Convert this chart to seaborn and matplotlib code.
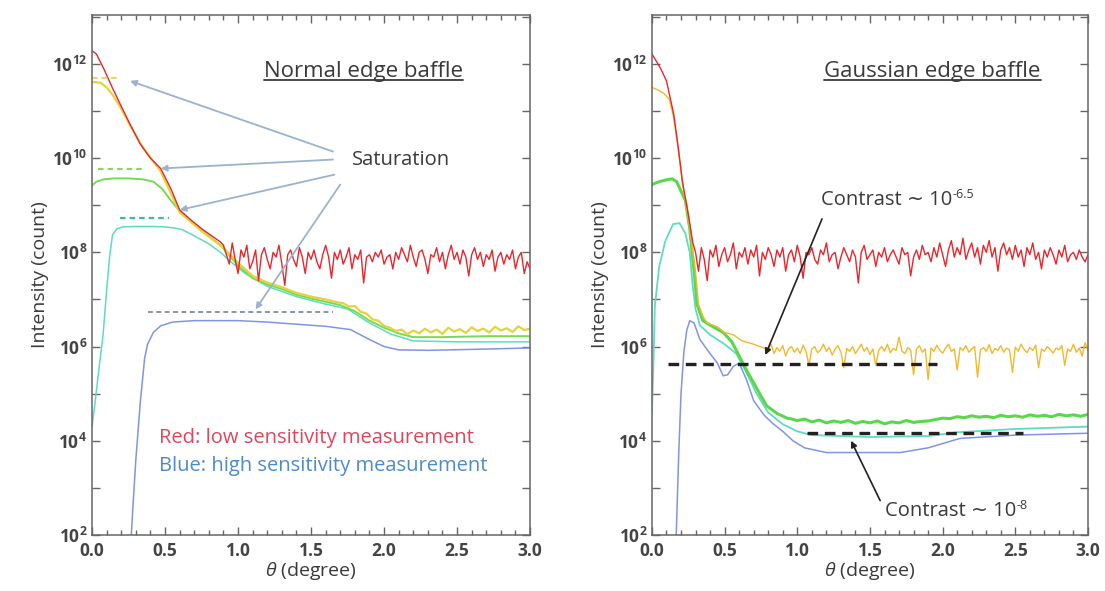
import numpy as np
import pandas as pd
import matplotlib
matplotlib.use("Agg")
import matplotlib.pyplot as plt
import seaborn as sns
from matplotlib.ticker import FixedLocator, NullFormatter, FixedFormatter
from matplotlib.lines import Line2D

# ---------------- data (log10 of intensity) ----------------
# Normal edge baffle (left panel)
n_red_theta = [0.0, 0.03, 0.08, 0.14, 0.2, 0.26, 0.33, 0.4, 0.47, 0.54, 0.6, 0.68, 0.76, 0.82, 0.88]
n_red_log = [12.28, 12.21, 11.9, 11.49, 11.1, 10.72, 10.3, 10.0, 9.78, 9.35, 8.9, 8.68, 8.48, 8.35, 8.22]
# noisy floor, 0.90 .. 3.00 every 0.02
n_red_noise = [
    8.15, 7.95, 7.75, 8.2, 7.85, 7.55, 8.05, 7.9, 8.15, 7.65,
    7.8, 8.05, 7.4, 7.95, 8.1, 7.85, 7.65, 8.0, 7.9, 8.15,
    7.75, 7.3, 7.95, 8.05, 7.85, 7.7, 8.1, 7.9, 7.55, 8.0,
    7.85, 8.05, 7.8, 7.65, 7.95, 8.15, 7.9, 7.45, 8.0, 7.85,
    8.05, 7.75, 7.9, 8.1, 7.65, 7.95, 7.85, 8.05, 7.35, 7.9,
    7.95, 7.8, 8.0, 7.9, 8.05, 7.75, 7.9, 7.95, 7.65, 8.0,
    7.85, 8.1, 7.95, 7.8, 8.15, 7.9, 7.7, 8.0, 8.05, 7.85,
    7.55, 7.95, 7.9, 8.1, 7.8, 8.0, 7.65, 7.95, 8.15, 7.85,
    8.0, 7.75, 8.05, 7.9, 7.5, 7.95, 8.1, 7.85, 8.0, 7.7,
    7.95, 7.85, 8.05, 7.6, 7.9, 8.0, 7.75, 7.95, 7.85, 8.05,
    7.65, 7.9, 8.0, 7.55, 7.8, 7.65]

n_yel_theta = [0.0, 0.06, 0.1, 0.14, 0.2, 0.26, 0.35, 0.47, 0.6, 0.75, 0.9, 1.0, 1.1, 1.2, 1.3, 1.4, 1.5, 1.6, 1.68]
n_yel_log = [11.62, 11.6, 11.5, 11.35, 11.05, 10.7, 10.22, 9.72, 8.85, 8.45, 8.1, 7.78, 7.5, 7.36, 7.26, 7.14, 7.06, 7.0, 6.94]
# 1.72 .. 3.00 every 0.04
n_yel_noise = [6.92, 6.85, 6.86, 6.74, 6.7, 6.58, 6.55, 6.44, 6.4, 6.33, 6.36, 6.26, 6.34, 6.28, 6.38, 6.3,
               6.36, 6.27, 6.4, 6.32, 6.37, 6.29, 6.41, 6.33, 6.38, 6.3, 6.42, 6.34, 6.39, 6.31, 6.43, 6.35, 6.38]

n_grn_theta = [0.0, 0.03, 0.08, 0.15, 0.25, 0.35, 0.42, 0.48, 0.54, 0.6, 0.68, 0.78, 0.88, 1.0, 1.1, 1.2, 1.3,
               1.4, 1.5, 1.6, 1.7, 1.8, 1.9, 2.0, 2.1, 2.2, 2.4, 2.7, 3.0]
n_grn_log = [9.42, 9.5, 9.55, 9.57, 9.57, 9.55, 9.5, 9.35, 9.1, 8.88, 8.65, 8.4, 8.15, 7.72, 7.45, 7.32, 7.22,
             7.1, 7.02, 6.95, 6.88, 6.75, 6.55, 6.4, 6.28, 6.2, 6.2, 6.22, 6.22]

n_cyn_theta = [0.0, 0.02, 0.05, 0.075, 0.1, 0.12, 0.14, 0.17, 0.21, 0.3, 0.4, 0.5, 0.56, 0.62, 0.7, 0.79, 0.88,
               0.95, 1.05, 1.2, 1.4, 1.6, 1.75, 1.9, 2.05, 2.2, 2.5, 3.0]
n_cyn_log = [4.3, 4.8, 5.6, 6.23, 7.2, 7.9, 8.37, 8.5, 8.54, 8.55, 8.55, 8.54, 8.52, 8.48, 8.35, 8.2, 8.0,
             7.8, 7.55, 7.28, 7.06, 6.9, 6.8, 6.5, 6.26, 6.12, 6.1, 6.1]

n_blu_theta = [0.265, 0.28, 0.3, 0.33, 0.36, 0.38, 0.42, 0.47, 0.55, 0.7, 1.0, 1.2, 1.42, 1.6, 1.77, 1.9, 2.0,
               2.1, 2.3, 2.6, 3.0]
n_blu_log = [1.8, 2.6, 3.6, 4.8, 5.75, 6.05, 6.3, 6.44, 6.52, 6.55, 6.55, 6.52, 6.47, 6.43, 6.36, 6.15, 6.0,
             5.93, 5.92, 5.94, 5.97]

# saturation levels (start, end, log level)
sat_yel = [0.0, 0.19, 11.7]
sat_grn = [0.04, 0.35, 9.76]
sat_cyn = [0.19, 0.53, 8.73]
sat_blu = [0.38, 1.65, 6.74]

# Gaussian edge baffle (right panel)
g_red_theta = [0.0, 0.03, 0.06, 0.1, 0.15, 0.18, 0.21, 0.25, 0.28]
g_red_log = [12.21, 12.06, 11.9, 11.64, 10.93, 10.25, 9.5, 8.8, 8.22]
# 0.30 .. 3.00 every 0.02
g_red_noise = [
    8.0, 7.6, 8.1, 7.85, 7.4, 8.05, 7.9, 8.15, 7.7, 7.95,
    8.1, 7.8, 7.95, 8.2, 7.65, 8.0, 7.9, 8.1, 7.75, 8.05,
    7.9, 8.15, 7.5, 8.0, 7.85, 8.1, 7.95, 7.7, 8.05, 7.9,
    8.1, 7.6, 7.95, 8.05, 7.8, 8.15, 7.9, 7.45, 8.0, 7.95,
    8.1, 7.85, 7.75, 8.05, 7.95, 8.2, 7.8, 7.95, 8.0, 7.65,
    7.9, 8.1, 7.95, 7.8, 8.05, 7.9, 7.35, 8.0, 8.15, 7.85,
    7.95, 8.05, 7.7, 8.0, 7.9, 8.1, 7.8, 7.95, 8.05, 7.9,
    7.75, 8.1, 7.95, 8.0, 7.5, 7.9, 8.05, 7.85, 8.15, 7.95,
    8.0, 7.8, 8.1, 7.9, 8.2, 7.95, 7.7, 8.05, 8.25, 7.9,
    8.1, 7.95, 8.3, 7.85, 8.05, 8.2, 7.9, 8.1, 7.75, 8.15,
    8.0, 8.25, 7.9, 8.1, 7.6, 8.05, 8.2, 7.95, 8.1, 7.85,
    8.15, 7.9, 8.05, 7.7, 8.1, 7.95, 8.2, 7.85, 8.0, 7.65,
    8.05, 7.9, 8.1, 7.95, 7.75, 8.05, 7.9, 8.15, 7.8, 7.95,
    8.0, 7.85, 8.05, 7.9, 7.8, 7.95]

g_yel_theta = [0.0, 0.04, 0.08, 0.12, 0.15, 0.18, 0.21, 0.24, 0.27, 0.3, 0.32, 0.35, 0.38, 0.45, 0.5, 0.56,
               0.62, 0.7, 0.76]
g_yel_log = [11.5, 11.45, 11.38, 11.25, 10.85, 10.2, 9.45, 8.9, 8.3, 7.58, 6.9, 6.65, 6.5, 6.42, 6.3, 6.25,
             6.12, 6.05, 5.98]
# 0.80 .. 3.00 every 0.02
g_yel_noise = [
    5.95, 6.05, 5.85, 5.98, 5.9, 6.02, 5.8, 5.95, 6.0, 5.88,
    5.97, 5.85, 6.03, 5.9, 5.6, 5.95, 6.0, 5.87, 5.93, 6.05,
    5.9, 5.98, 5.82, 5.95, 6.02, 5.88, 5.55, 5.96, 5.9, 6.0,
    5.85, 5.95, 6.05, 5.9, 5.98, 5.83, 5.95, 5.6, 5.92, 6.0,
    5.9, 6.05, 5.87, 5.96, 5.92, 6.2, 5.9, 5.85, 5.98, 5.93,
    5.4, 5.95, 6.02, 5.88, 5.95, 5.3, 5.97, 5.9, 6.03, 5.92,
    5.86, 5.97, 6.05, 5.9, 5.95, 5.5, 5.98, 5.92, 6.02, 5.88,
    5.95, 6.0, 5.35, 5.93, 5.98, 5.9, 6.04, 5.85, 5.96, 5.92,
    6.02, 5.88, 5.97, 5.93, 5.45, 5.99, 5.9, 6.05, 5.94, 5.87,
    5.98, 5.92, 6.03, 5.55, 5.95, 5.9, 6.0, 5.94, 5.86, 5.97,
    5.93, 6.02, 5.6, 5.95, 5.9, 6.05, 5.88, 5.97, 5.8, 6.08,
    5.92]

g_grn_theta = [0.0, 0.05, 0.1, 0.14, 0.17, 0.2, 0.23, 0.26, 0.29, 0.31, 0.35, 0.42, 0.49, 0.55, 0.6, 0.65,
               0.7, 0.75, 0.79, 0.86, 0.93]
g_grn_log = [9.44, 9.5, 9.54, 9.56, 9.5, 9.3, 9.1, 8.5, 7.6, 6.9, 6.55, 6.42, 6.3, 6.1, 5.8, 5.5,
             5.23, 4.95, 4.74, 4.58, 4.48]
# 0.95 .. 3.00 every 0.05
g_grn_noise = [4.47, 4.43, 4.46, 4.40, 4.44, 4.38, 4.42, 4.39, 4.43, 4.37, 4.41, 4.38, 4.42, 4.36,
               4.40, 4.38, 4.43, 4.39, 4.41, 4.42, 4.45, 4.48, 4.47, 4.51, 4.49, 4.53, 4.50, 4.52,
               4.49, 4.54, 4.51, 4.53, 4.50, 4.55, 4.52, 4.54, 4.51, 4.56, 4.53, 4.55, 4.52, 4.56]

g_cyn_theta = [0.0, 0.01, 0.02, 0.05, 0.09, 0.145, 0.19, 0.23, 0.26, 0.28, 0.3, 0.33, 0.4, 0.5, 0.58, 0.65,
               0.72, 0.8, 0.9, 1.0, 1.1, 1.5, 1.9, 2.1, 2.5, 3.0]
g_cyn_log = [4.6, 5.6, 6.87, 7.7, 8.22, 8.6, 8.62, 8.4, 8.0, 7.3, 6.8, 6.45, 6.25, 6.05, 5.85, 5.45,
             5.0, 4.6, 4.35, 4.2, 4.12, 4.08, 4.1, 4.18, 4.25, 4.3]

g_blu_theta = [0.165, 0.175, 0.185, 0.2, 0.22, 0.24, 0.26, 0.29, 0.33, 0.4, 0.45, 0.49, 0.52, 0.56, 0.6,
               0.65, 0.7, 0.77, 0.83, 0.9, 0.97, 1.05, 1.2, 1.45, 1.71, 1.9, 2.12, 2.5, 3.0]
g_blu_log = [1.8, 2.8, 3.8, 5.0, 5.9, 6.35, 6.55, 6.5, 6.15, 5.85, 5.65, 5.38, 5.4, 5.58, 5.65,
             5.3, 4.85, 4.55, 4.37, 4.2, 4.0, 3.85, 3.75, 3.75, 3.75, 3.85, 4.05, 4.12, 4.16]

# contrast levels (start, end, log level)
contrast_yel = [0.11, 1.96, 5.63]
contrast_grn = [1.07, 2.55, 4.17]

y_major = [2, 4, 6, 8, 10, 12]
x_major = [0.0, 0.5, 1.0, 1.5, 2.0, 2.5, 3.0]
x_minor = [0.1, 0.2, 0.3, 0.4, 0.6, 0.7, 0.8, 0.9, 1.1, 1.2, 1.3, 1.4, 1.6, 1.7, 1.8, 1.9,
           2.1, 2.2, 2.3, 2.4, 2.6, 2.7, 2.8, 2.9]

# ---------------- style ----------------
sns.set_theme(style="ticks")
plt.rcParams["font.family"] = ["Open Sans", "DejaVu Sans"]
plt.rcParams["mathtext.fontset"] = "custom"
plt.rcParams["mathtext.rm"] = "Open Sans"
plt.rcParams["mathtext.it"] = "Open Sans:italic"
plt.rcParams["mathtext.bf"] = "Open Sans:bold"

RED = "#e8262c"
YEL_N = "#e4d43c"
YEL_G = "#f2b92c"
GRN = "#74dc55"
CYN = "#5fdcc0"
BLU = "#8196df"
TXT = "#3a3a3a"
SPINE = "#666666"
ARROW_N = "#9db2cc"

fig = plt.figure(figsize=(11.05, 5.91), dpi=100)
ax_n = fig.add_axes([0.0833, 0.0948, 0.3964, 0.880])
ax_g = fig.add_axes([0.590, 0.0948, 0.3946, 0.880])


def draw_curve(ax, theta, logs, color, lw=1.1):
    df = pd.DataFrame({"theta": theta, "I": 10 ** np.asarray(logs, dtype=float)})
    sns.lineplot(data=df, x="theta", y="I", ax=ax, color=color, lw=lw,
                 estimator=None, sort=False, legend=False)


def level_line(ax, seg, color, lw, dashes):
    ax.plot([seg[0], seg[1]], [10 ** seg[2]] * 2, color=color, lw=lw, dashes=dashes)


# left panel curves
draw_curve(ax_n, n_blu_theta, n_blu_log, BLU)
draw_curve(ax_n, n_cyn_theta, n_cyn_log, CYN)
draw_curve(ax_n, n_grn_theta, n_grn_log, GRN, lw=1.4)
draw_curve(ax_n, n_yel_theta + list(np.round(np.arange(1.72, 3.001, 0.04), 2)),
           n_yel_log + n_yel_noise, YEL_N, lw=1.6)
draw_curve(ax_n, n_red_theta + list(np.round(np.arange(0.90, 3.001, 0.02), 2)),
           n_red_log + n_red_noise, RED, lw=1.0)

level_line(ax_n, sat_yel, "#e6d86a", 1.6, (2.5, 1.8))
level_line(ax_n, sat_grn, "#8fd468", 1.6, (2.5, 1.8))
level_line(ax_n, sat_cyn, "#3fb8a8", 1.6, (2.5, 1.8))
level_line(ax_n, sat_blu, "#8a93b0", 1.4, (2.5, 1.8))

# right panel curves
draw_curve(ax_g, g_blu_theta, g_blu_log, BLU)
draw_curve(ax_g, g_cyn_theta, g_cyn_log, CYN, lw=1.3)
draw_curve(ax_g, g_grn_theta + list(np.round(np.arange(0.95, 3.001, 0.05), 2)),
           g_grn_log + g_grn_noise, "#5ad84c", lw=2.2)
draw_curve(ax_g, g_yel_theta + list(np.round(np.arange(0.80, 3.001, 0.02), 2)),
           g_yel_log + g_yel_noise, YEL_G, lw=1.0)
draw_curve(ax_g, g_red_theta + list(np.round(np.arange(0.30, 3.001, 0.02), 2)),
           g_red_log + g_red_noise, RED, lw=1.0)

level_line(ax_g, contrast_yel, "#222222", 2.4, (3.2, 2.0))
level_line(ax_g, contrast_grn, "#222222", 2.4, (3.2, 2.0))

# axes formatting
for ax in (ax_n, ax_g):
    ax.set_yscale("log")
    ax.set_xlim(0, 3.0)
    ax.set_ylim(1e2, 1.1e13)
    ax.yaxis.set_major_locator(FixedLocator([10.0 ** e for e in y_major]))
    ax.yaxis.set_major_formatter(FixedFormatter([r"$\mathbf{10^{%d}}$" % e for e in y_major]))
    ax.yaxis.set_minor_locator(FixedLocator([10.0 ** (e + 1) for e in y_major]))
    ax.yaxis.set_minor_formatter(NullFormatter())
    ax.xaxis.set_major_locator(FixedLocator(x_major))
    ax.xaxis.set_major_formatter(FixedFormatter(["%.1f" % v for v in x_major]))
    ax.xaxis.set_minor_locator(FixedLocator(x_minor))
    for lab in ax.get_xticklabels():
        lab.set_fontweight("bold")
    ax.tick_params(which="both", direction="in", top=True, right=True, colors=SPINE,
                   labelcolor="#444444", labelsize=12.5, width=1.0)
    ax.tick_params(which="major", length=6)
    ax.tick_params(axis="y", which="minor", length=6)
    ax.tick_params(axis="x", which="minor", length=3.5)
    ax.tick_params(axis="x", pad=5)
    for s in ax.spines.values():
        s.set_color(SPINE)
        s.set_linewidth(1.1)
    ax.set_xlabel(r"$\theta$ (degree)", fontsize=14, color=TXT, labelpad=0)
    ax.set_ylabel("Intensity (count)", fontsize=14, color=TXT, labelpad=2)

# left annotations
t_n = ax_n.text(1.86, 10 ** 11.85, "Normal edge baffle", ha="center", va="center", fontsize=16, color=TXT)
ax_n.text(1.78, 10 ** 9.97, "Saturation", ha="left", va="center", fontsize=14.5, color=TXT)
sat_tips = [(0.26, 11.64), (0.47, 9.78), (0.6, 8.9), (1.12, 6.79)]
sat_tails = [(1.65, 10.14), (1.65, 9.97), (1.66, 9.65), (1.70, 9.44)]
for (xt, lt), (xs, ls) in zip(sat_tips, sat_tails):
    ax_n.annotate("", xy=(xt, 10 ** lt), xytext=(xs, 10 ** ls),
                  arrowprops=dict(arrowstyle="-|>", color=ARROW_N, lw=1.3, mutation_scale=9,
                                  shrinkA=0, shrinkB=0))
ax_n.text(0.46, 10 ** 4.05, "Red: low sensitivity measurement", ha="left", va="center",
          fontsize=14.5, color="#e0455c")
ax_n.text(0.46, 10 ** 3.47, "Blue: high sensitivity measurement", ha="left", va="center",
          fontsize=14.5, color="#4f8acb")

# right annotations
t_g = ax_g.text(1.93, 10 ** 11.85, "Gaussian edge baffle", ha="center", va="center", fontsize=16, color=TXT)
c1 = ax_g.text(1.16, 10 ** 9.12, "Contrast \u223c 10", ha="left", va="center", fontsize=14.5, color=TXT)
ax_g.annotate("", xy=(0.78, 10 ** 5.82), xytext=(1.17, 10 ** 8.71),
              arrowprops=dict(arrowstyle="-|>", color="#222222", lw=1.2, mutation_scale=9,
                              shrinkA=0, shrinkB=0))
c2 = ax_g.text(1.6, 10 ** 2.51, "Contrast \u223c 10", ha="left", va="center", fontsize=14.5, color=TXT)
ax_g.annotate("", xy=(1.37, 10 ** 4.0), xytext=(1.57, 10 ** 2.73),
              arrowprops=dict(arrowstyle="-|>", color="#222222", lw=1.2, mutation_scale=9,
                              shrinkA=0, shrinkB=0))

# underline the panel titles, add exponents after the contrast texts
fig.canvas.draw()
inv = fig.transFigure.inverted()
for t in (t_n, t_g):
    bb = t.get_window_extent().transformed(inv)
    fig.add_artist(Line2D([bb.x0, bb.x1], [bb.y0 + 0.002] * 2, transform=fig.transFigure,
                          color=TXT, lw=1.3))
for t, sup in ((c1, "-6.5"), (c2, "-8")):
    bb = t.get_window_extent().transformed(inv)
    fig.text(bb.x1 + 0.001, bb.y1 - 0.008, sup, ha="left", va="center", fontsize=9, color=TXT)

fig.savefig("out.png", dpi=100)
